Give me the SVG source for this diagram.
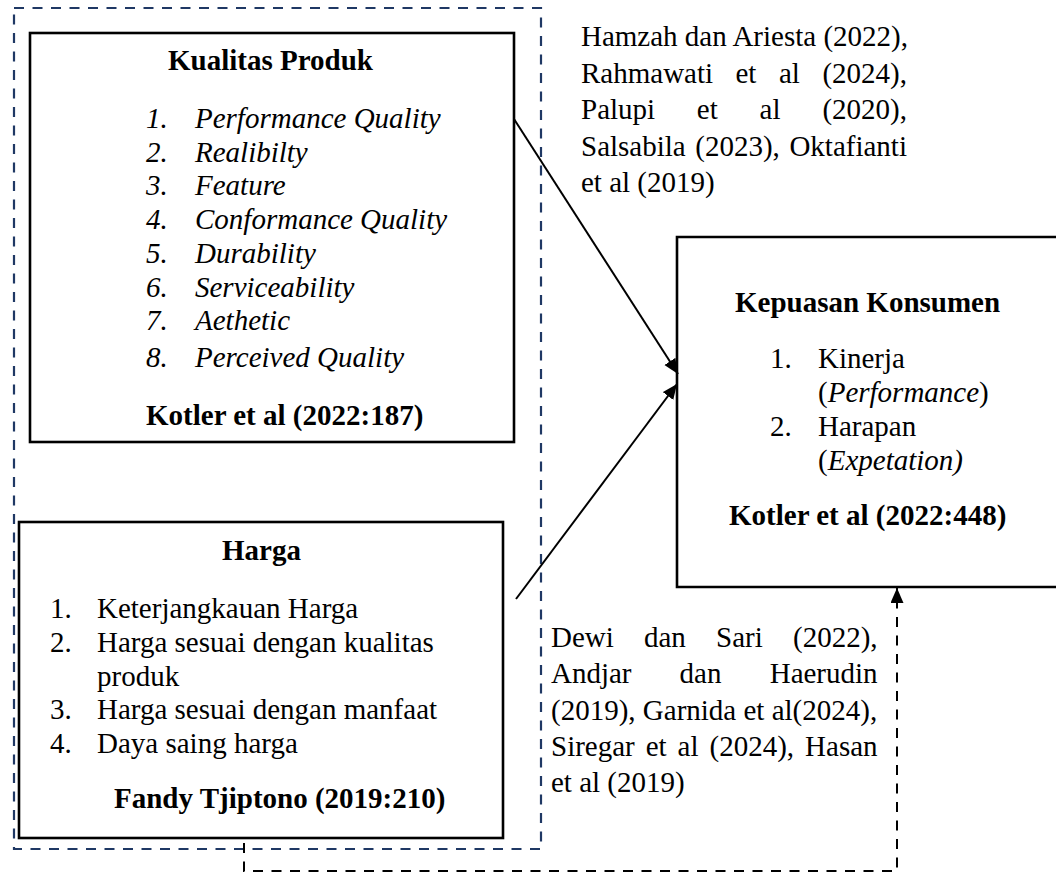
<svg xmlns="http://www.w3.org/2000/svg" width="1056" height="875" viewBox="0 0 1056 875">
<style>
text{font-family:"Liberation Serif","Times New Roman",serif;font-size:29px;fill:#000}
.b{font-weight:bold}
.i{font-style:italic}
.box{fill:#fff;stroke:#000;stroke-width:2.6}
.grp{fill:none;stroke:#1f3864;stroke-width:2.2;stroke-dasharray:10 8.5}
.dash{fill:none;stroke:#000;stroke-width:2;stroke-dasharray:10 8.5}
.line{fill:none;stroke:#000;stroke-width:2}
</style>
<defs>
<marker id="ah" markerUnits="userSpaceOnUse" markerWidth="16" markerHeight="14" refX="15" refY="6.5" orient="auto">
<path d="M0,0 L15,6.5 L0,13 z" fill="#000"/>
</marker>
</defs>
<rect width="1056" height="875" fill="#fff"/>
<rect class="grp" x="14" y="8" width="527" height="841"/>
<g id="kualitas">
<rect class="box" x="30" y="33" width="484" height="409"/>
<text class="b" x="168" y="70">Kualitas Produk</text>
<g class="i">
<text class="i" x="146" y="128">1.</text><text class="i" x="195" y="128">Performance Quality</text>
<text class="i" x="146" y="162">2.</text><text class="i" x="195" y="162">Realibilty</text>
<text class="i" x="146" y="195">3.</text><text class="i" x="195" y="195">Feature</text>
<text class="i" x="146" y="229">4.</text><text class="i" x="195" y="229">Conformance Quality</text>
<text class="i" x="146" y="263">5.</text><text class="i" x="195" y="263">Durability</text>
<text class="i" x="146" y="297">6.</text><text class="i" x="195" y="297">Serviceability</text>
<text class="i" x="146" y="330">7.</text><text class="i" x="195" y="330">Aethetic</text>
<text class="i" x="146" y="367">8.</text><text class="i" x="195" y="367">Perceived Quality</text>
</g>
<text class="b" x="146" y="425">Kotler et al (2022:187)</text>
</g>
<g id="harga">
<rect class="box" x="19" y="522" width="484" height="316"/>
<text class="b" x="222" y="560">Harga</text>
<text x="50" y="618">1.</text><text x="97" y="618">Keterjangkauan Harga</text>
<text x="50" y="652">2.</text><text x="97" y="652">Harga sesuai dengan kualitas</text>
<text x="97" y="686">produk</text>
<text x="50" y="719">3.</text><text x="97" y="719">Harga sesuai dengan manfaat</text>
<text x="50" y="753">4.</text><text x="97" y="753">Daya saing harga</text>
<text class="b" x="114" y="808">Fandy Tjiptono (2019:210)</text>
</g>
<g id="kepuasan">
<path class="box" d="M1060,237 L677,237 L677,587 L1060,587"/>
<text class="b" x="735" y="312">Kepuasan Konsumen</text>
<text x="770" y="368">1.</text><text x="818" y="368">Kinerja</text>
<text x="818" y="402">(<tspan class="i">Performance</tspan>)</text>
<text x="770" y="436">2.</text><text x="818" y="436">Harapan</text>
<text x="818" y="470">(<tspan class="i">Expetation)</tspan></text>
<text class="b" x="729" y="525">Kotler et al (2022:448)</text>
</g>
<g id="cite1">
<text x="581" y="46">Hamzah dan Ariesta (2022),</text>
<text y="83"><tspan x="581">Rahmawati</tspan><tspan x="735.5">et</tspan><tspan x="779">al</tspan><tspan x="822.4">(2024),</tspan></text>
<text y="119"><tspan x="581">Palupi</tspan><tspan x="696.8">et</tspan><tspan x="759.6">al</tspan><tspan x="822.4">(2020),</tspan></text>
<text y="156"><tspan x="581">Salsabila</tspan><tspan x="695.3">(2023),</tspan><tspan x="789.4">Oktafianti</tspan></text>
<text x="581" y="192">et al (2019)</text>
</g>
<g id="cite2">
<text y="647"><tspan x="551">Dewi</tspan><tspan x="644">dan</tspan><tspan x="716.1">Sari</tspan><tspan x="793">(2022),</tspan></text>
<text y="683"><tspan x="551">Andjar</tspan><tspan x="679.6">dan</tspan><tspan x="769.7">Haerudin</tspan></text>
<text x="551" y="720">(2019), Garnida et al(2024),</text>
<text y="756"><tspan x="551">Siregar</tspan><tspan x="645.7">et</tspan><tspan x="677.6">al</tspan><tspan x="709.5">(2024),</tspan><tspan x="805.1">Hasan</tspan></text>
<text x="551" y="792">et al (2019)</text>
</g>
<g id="connectors">
<line class="line" x1="514" y1="119" x2="678" y2="374" marker-end="url(#ah)"/>
<line class="line" x1="516" y1="599" x2="677" y2="384" marker-end="url(#ah)"/>
<path class="dash" d="M244,843 L244,871 L897,871 L897,588" marker-end="url(#ah)"/>
</g>
</svg>
